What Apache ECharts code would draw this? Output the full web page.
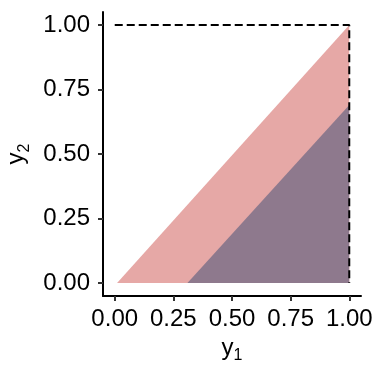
<!DOCTYPE html>
<html><head><meta charset="utf-8">
<script src="https://cdn.jsdelivr.net/npm/echarts@6/dist/echarts.min.js"></script>
<style>html,body{margin:0;padding:0;background:#fff}#c{width:375px;height:375px}</style>
</head><body><div id="c"></div>
<script>
const tickValues = [0, 0.25, 0.5, 0.75, 1];
const pinkRegionX = [0.01, 1, 1];
const pinkRegionY = [0, 1, 0];
const purpleRegionX = [0.31, 1, 1];
const purpleRegionY = [0, 0.69, 0];
const boundaryX = [0, 1, 1];
const boundaryY = [1, 1, 0];

const zip = (xs, ys) => xs.map((x, i) => [x, ys[i]]);
function polySeries(xs, ys, color) {
  return {
    type: 'custom',
    data: zip(xs, ys),
    silent: true,
    renderItem: function (params, api) {
      if (params.dataIndex !== 0) return null;
      const pts = zip(xs, ys).map(p => api.coord(p));
      return { type: 'polygon', shape: { points: pts }, style: { fill: color } };
    },
    z: 1
  };
}
const FF = 'Liberation Sans, Arial, sans-serif';
const axisCommon = {
  type: 'value', min: -0.05, max: 1.05,
  splitLine: { show: false },
  axisLine: { show: true, onZero: false, lineStyle: { color: '#000', width: 2 } },
  axisTick: { show: true, customValues: tickValues, length: 5, lineStyle: { color: '#333', width: 2 } },
  axisLabel: { customValues: tickValues, formatter: v => v.toFixed(2), color: '#000', fontSize: 24, fontFamily: FF },
  nameLocation: 'middle',
  nameTextStyle: {
    fontFamily: FF, color: '#000',
    rich: {
      a: { fontSize: 24, fontFamily: FF, color: '#000', verticalAlign: 'bottom', padding: [0, 0, 4, 0] },
      b: { fontSize: 16, fontFamily: FF, color: '#000', verticalAlign: 'bottom' }
    }
  }
};
const chart = echarts.init(document.getElementById('c'), null, { renderer: 'canvas' });
chart.setOption({
  animation: false,
  grid: { left: 103, right: 14, top: 12, bottom: 79, containLabel: false, outerBoundsMode: 'none' },
  xAxis: Object.assign({}, axisCommon, {
    name: '{a|y}{b|1}', nameGap: 37,
    axisLabel: Object.assign({}, axisCommon.axisLabel, { margin: 11 })
  }),
  yAxis: Object.assign({}, axisCommon, {
    name: '{a|y}{b|2}', nameGap: 63,
    axisLabel: Object.assign({}, axisCommon.axisLabel, { margin: 13 })
  }),
  series: [
    polySeries(pinkRegionX, pinkRegionY, '#E6A8A6'),
    polySeries(purpleRegionX, purpleRegionY, '#8E798D'),
    {
      type: 'line', data: zip(boundaryX, boundaryY), symbol: 'none', silent: true, z: 5,
      lineStyle: { color: '#000', width: 2, type: [8, 4] }
    }
  ]
});
</script></body></html>
